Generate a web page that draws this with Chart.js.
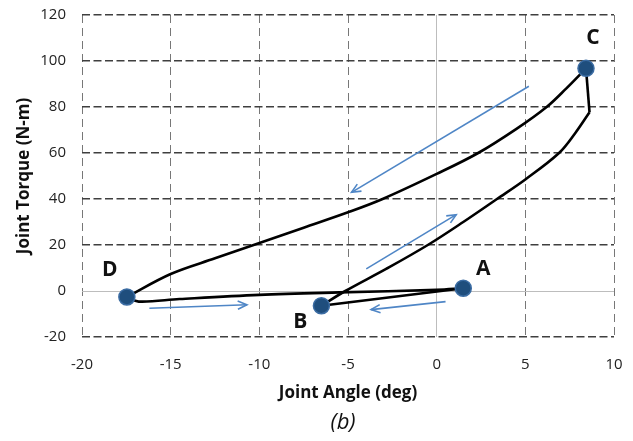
<!DOCTYPE html>
<html>
<head>
<meta charset="utf-8">
<script src="https://cdn.jsdelivr.net/npm/chart.js@4"></script>
<style>
  html, body { margin: 0; padding: 0; background: #fff; }
  #wrap { width: 633px; height: 441px; }
</style>
</head>
<body>
<div id="wrap"><canvas id="loopChart"></canvas></div>
<script>
// Axis ranges / ticks
const angleTicks = [-20, -15, -10, -5, 0, 5, 10];
const torqueTicks = [-20, 0, 20, 40, 60, 80, 100, 120];

// Key points A, B, C, D
const pointNames = ['A', 'B', 'C', 'D'];
const pointAngle = [1.5, -6.5, 8.42, -17.47];
const pointTorque = [1.2, -6.4, 96.8, -2.6];

// A -> B
const abAngle = [1.5, -6.5];
const abTorque = [1.2, -6.4];

// B -> corner below C (loading branch)
const bcAngle = [-6.5, -5.15, -2.85, -0.5, 1.5, 3.4, 5.0, 6.9, 7.8, 8.62];
const bcTorque = [-6.4, 0, 9.6, 20, 30, 40, 48.5, 60, 68.5, 77.7];

// corner -> C
const cornerAngle = [8.62, 8.42];
const cornerTorque = [77.7, 96.8];

// C -> D (unloading branch)
const cdAngle = [8.42, 7.3, 6.2, 4.5, 2.34, 0, -3.05, -5, -7.5, -10.2, -12.5, -15, -17.47];
const cdTorque = [96.8, 88, 80, 70.5, 60, 50.9, 40, 34.2, 27.5, 20.3, 14.2, 7.4, -2.6];

// D -> A
const daAngle = [-17.47, -16.8, -14.5, -10, -5.5, 0, 1.5];
const daTorque = [-2.6, -4.6, -3.5, -1.7, -0.6, 0.5, 1.2];

// Direction arrows (tail, head)
const arrow1Angle = [5.2, -4.8],   arrow1Torque = [89, 42.9];
const arrow2Angle = [-3.97, 1.1],  arrow2Torque = [9.6, 33.2];
const arrow3Angle = [-16.2, -10.7], arrow3Torque = [-7.5, -6.0];
const arrow4Angle = [0.5, -3.7],   arrow4Torque = [-4.6, -8.1];

function pts(xs, ys) {
    return xs.map((x, i) => ({ x: x, y: ys[i] }));
}

// label offsets in pixels from each marker
const labelOffset = { A: [20, -19], B: [-21, 16], C: [7, -30], D: [-17, -27] };

const curveColor = '#000000';
const arrowColor = '#4f86c6';

function curve(xs, ys, smooth) {
    return {
        type: 'line',
        data: pts(xs, ys),
        borderColor: curveColor,
        borderWidth: 2.6,
        pointRadius: 0,
        tension: smooth ? 0.35 : 0,
        fill: false,
        order: 2
    };
}

function arrow(xs, ys) {
    return {
        type: 'line',
        data: pts(xs, ys),
        borderColor: arrowColor,
        borderWidth: 1.6,
        pointRadius: 0,
        tension: 0,
        fill: false,
        arrow: true,
        order: 3
    };
}

// arrowheads at the end of arrow datasets
const arrowHeads = {
    id: 'arrowHeads',
    afterDatasetsDraw(chart) {
        const ctx = chart.ctx;
        chart.data.datasets.forEach((ds, i) => {
            if (!ds.arrow) return;
            const meta = chart.getDatasetMeta(i);
            const p0 = meta.data[meta.data.length - 2];
            const p1 = meta.data[meta.data.length - 1];
            const ang = Math.atan2(p1.y - p0.y, p1.x - p0.x);
            const len = 10, spread = 0.42;
            ctx.save();
            ctx.strokeStyle = ds.borderColor;
            ctx.lineWidth = 1.6;
            ctx.beginPath();
            ctx.moveTo(p1.x - len * Math.cos(ang - spread), p1.y - len * Math.sin(ang - spread));
            ctx.lineTo(p1.x, p1.y);
            ctx.lineTo(p1.x - len * Math.cos(ang + spread), p1.y - len * Math.sin(ang + spread));
            ctx.stroke();
            ctx.restore();
        });
    }
};

// letters next to the markers, and the "(b)" caption
const pointLabels = {
    id: 'pointLabels',
    afterDatasetsDraw(chart) {
        const ctx = chart.ctx;
        const meta = chart.getDatasetMeta(0);
        ctx.save();
        ctx.font = 'bold 21px "Open Sans", sans-serif';
        ctx.fillStyle = '#111';
        ctx.textAlign = 'center';
        ctx.textBaseline = 'middle';
        meta.data.forEach((el, i) => {
            const name = pointNames[i];
            const off = labelOffset[name];
            ctx.fillText(name, el.x + off[0], el.y + off[1]);
        });
        const area = chart.chartArea;
        ctx.font = 'italic 22px "Open Sans", sans-serif';
        ctx.fillText('(b)', (area.left + area.right) / 2 - 5, 423);
        ctx.restore();
    }
};

document.addEventListener('DOMContentLoaded', function() {
    const chartCtx = document.getElementById('loopChart').getContext('2d');
    new Chart(chartCtx, {
        type: 'line',
        data: {
            datasets: [
                {
                    type: 'scatter',
                    data: pts(pointAngle, pointTorque),
                    backgroundColor: '#1f4e7d',
                    borderColor: '#3b6ca3',
                    borderWidth: 1.5,
                    pointRadius: 8,
                    showLine: false,
                    order: 1
                },
                curve(abAngle, abTorque, false),
                curve(bcAngle, bcTorque, true),
                curve(cornerAngle, cornerTorque, false),
                curve(cdAngle, cdTorque, true),
                curve(daAngle, daTorque, true),
                arrow(arrow1Angle, arrow1Torque),
                arrow(arrow2Angle, arrow2Torque),
                arrow(arrow3Angle, arrow3Torque),
                arrow(arrow4Angle, arrow4Torque)
            ]
        },
        options: {
            responsive: true,
            maintainAspectRatio: false,
            animation: false,
            layout: {
                padding: { top: 15, right: 19, left: 0, bottom: 34 }
            },
            plugins: {
                legend: { display: false },
                tooltip: { enabled: false }
            },
            scales: {
                x: {
                    type: 'linear',
                    min: angleTicks[0],
                    max: angleTicks[angleTicks.length - 1],
                    afterBuildTicks: (scale) => { scale.ticks = angleTicks.map(v => ({ value: v })); },
                    afterFit: (scale) => {
                        scale.height = 70;
                        scale.paddingLeft = 0;
                        scale.paddingRight = 0;
                    },
                    grid: {
                        drawTicks: false,
                        color: (c) => c.tick && c.tick.value === 0 ? '#bdbdbd' : '#777777',
                        lineWidth: 1
                    },
                    border: {
                        display: false,
                        dash: (c) => c.tick && c.tick.value === 0 ? [] : [8, 5]
                    },
                    ticks: {
                        padding: 19,
                        color: '#222',
                        font: { family: '"Open Sans", sans-serif', size: 15 }
                    },
                    title: {
                        display: true,
                        text: 'Joint Angle (deg)',
                        color: '#111',
                        font: { family: '"Open Sans", sans-serif', size: 17, weight: 'bold' },
                        padding: { top: 4, bottom: 4 }
                    }
                },
                y: {
                    type: 'linear',
                    min: torqueTicks[0],
                    max: torqueTicks[torqueTicks.length - 1],
                    afterBuildTicks: (scale) => { scale.ticks = torqueTicks.map(v => ({ value: v })); },
                    afterFit: (scale) => {
                        scale.width = 82;
                        scale.paddingTop = 0;
                        scale.paddingBottom = 0;
                    },
                    grid: {
                        drawTicks: false,
                        color: (c) => c.tick && c.tick.value === 0 ? '#bdbdbd' : '#3f3f3f',
                        lineWidth: (c) => c.tick && c.tick.value === 0 ? 1 : 1.4
                    },
                    border: {
                        display: false,
                        dash: (c) => c.tick && c.tick.value === 0 ? [] : [8, 3.5]
                    },
                    ticks: {
                        padding: 16,
                        color: '#222',
                        font: { family: '"Open Sans", sans-serif', size: 15 }
                    },
                    title: {
                        display: true,
                        text: 'Joint Torque (N-m)',
                        color: '#111',
                        font: { family: '"Open Sans", sans-serif', size: 17, weight: 'bold' },
                        padding: { top: 14, bottom: 4 }
                    }
                }
            }
        },
        plugins: [arrowHeads, pointLabels]
    });
});
</script>
</body>
</html>
